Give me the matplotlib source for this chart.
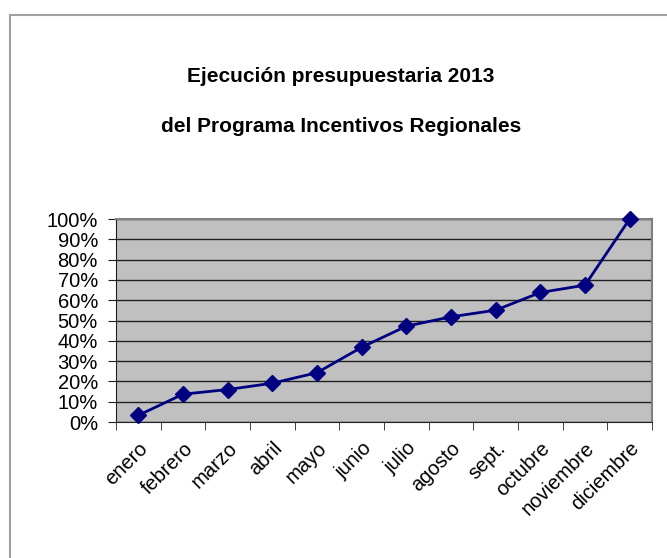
import matplotlib
matplotlib.use("Agg")
import matplotlib.pyplot as plt
from matplotlib.patches import Rectangle
from matplotlib.ticker import FixedLocator, PercentFormatter

plt.rcParams['font.family'] = ['Liberation Sans', 'DejaVu Sans']

months = ["enero", "febrero", "marzo", "abril", "mayo", "junio", "julio",
          "agosto", "sept.", "octubre", "noviembre", "diciembre"]
execution = [3.3, 13.7, 16.0, 19.1, 24.3, 36.8, 47.2, 51.8, 55.1, 63.8, 67.4, 100.0]
y_ticks = list(range(0, 101, 10))

fig = plt.figure(figsize=(6.67, 5.58), dpi=100)

# outer chart frame (cut off at the right and bottom like the reference)
fig.patches.append(Rectangle((10 / 667, -0.1), 1.2, 1 - 15 / 558 + 0.1,
                             transform=fig.transFigure, fill=False,
                             edgecolor="#a0a0a0", linewidth=1.5))

ax = fig.add_axes([116 / 667, 1 - 422 / 558, (652 - 116) / 667, (422 - 219) / 558])
ax.set_facecolor("#c0c0c0")

xs = list(range(len(months)))
ax.plot(xs, execution, color="#000080", linewidth=2, marker="D",
        markersize=8, zorder=3, clip_on=False)

ax.set_xlim(-0.5, len(months) - 0.5)
ax.set_ylim(0, 100)
ax.set_yticks(y_ticks)
ax.yaxis.set_major_formatter(PercentFormatter(decimals=0))
ax.grid(axis="y", color="#202020", linewidth=1)
ax.set_axisbelow(True)

ax.set_xticks(xs)
ax.set_xticklabels(months, rotation=45, ha="right", rotation_mode="anchor")
ax.xaxis.set_minor_locator(FixedLocator([i - 0.5 for i in range(len(months) + 1)]))
ax.tick_params(axis="x", which="major", length=0, pad=12, labelsize=14.5)
ax.tick_params(axis="x", which="minor", length=6, direction="out", color="#202020")
ax.tick_params(axis="y", length=6, direction="out", labelsize=14.5, pad=7, color="#202020")

for side in ["top", "right"]:
    ax.spines[side].set_color("#808080")
    ax.spines[side].set_linewidth(1.5)
for side in ["left", "bottom"]:
    ax.spines[side].set_color("#202020")

fig.text(341 / 667, 1 - 76 / 558, "Ejecución presupuestaria 2013", ha="center", va="center",
         fontsize=15, fontweight="bold")
fig.text(341 / 667, 1 - 127 / 558, "del Programa Incentivos Regionales", ha="center", va="center",
         fontsize=15, fontweight="bold")

fig.savefig("out.png", dpi=100)
